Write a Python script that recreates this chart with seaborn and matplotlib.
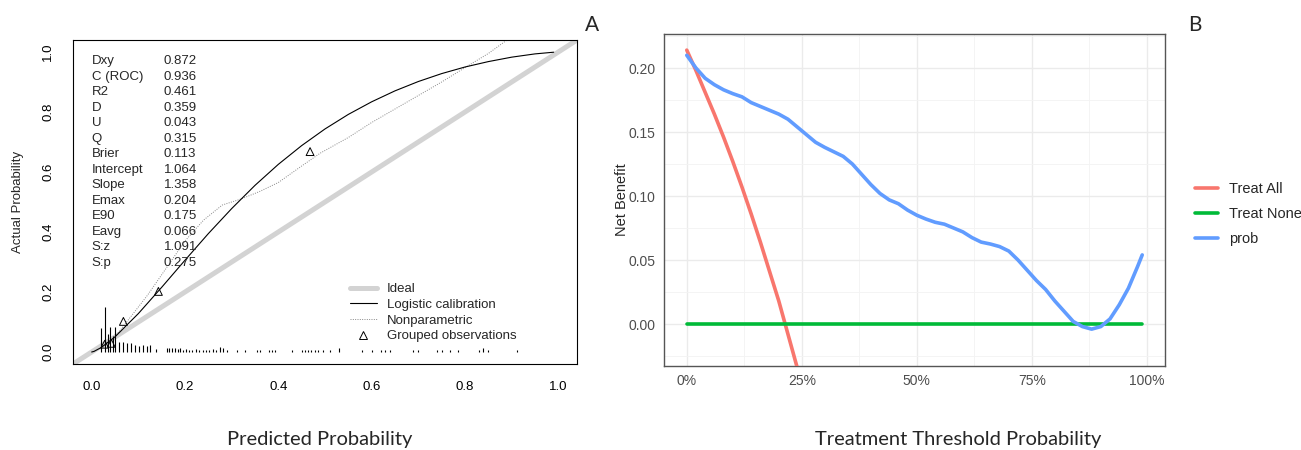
"""Calibration curve (A) and decision curve (B) side by side."""

import matplotlib
matplotlib.use("Agg")
import matplotlib.pyplot as plt
import pandas as pd
import seaborn as sns
from matplotlib.lines import Line2D


# ---- panel A: calibration ----
STAT_NAMES = ["Dxy", "C (ROC)", "R2", "D", "U", "Q", "Brier", "Intercept",
              "Slope", "Emax", "E90", "Eavg", "S:z", "S:p"]
STAT_VALUES = ["0.872", "0.936", "0.461", "0.359", "0.043", "0.315", "0.113",
               "1.064", "1.358", "0.204", "0.175", "0.066", "1.091", "0.275"]

LOGISTIC_PRED = [0.0, 0.005, 0.02, 0.05, 0.1, 0.15, 0.2, 0.25, 0.3, 0.35, 0.4,
                 0.45, 0.5, 0.55, 0.6, 0.65, 0.7, 0.75, 0.8, 0.85, 0.9, 0.95, 0.99]
LOGISTIC_OBS = [0.0, 0.002, 0.0145, 0.0505, 0.128, 0.2156, 0.306, 0.3946, 0.478,
                0.5555, 0.6255, 0.688, 0.7435, 0.792, 0.834, 0.8705, 0.9016,
                0.928, 0.950, 0.968, 0.9828, 0.9937, 0.9993]

NONPAR_PRED = [0.02, 0.05, 0.08, 0.12, 0.16, 0.20, 0.24, 0.28, 0.32, 0.36, 0.40,
               0.45, 0.49, 0.55, 0.60, 0.65, 0.70, 0.75, 0.80, 0.85, 0.89]
NONPAR_OBS = [0.01, 0.05, 0.11, 0.19, 0.28, 0.37, 0.44, 0.49, 0.51, 0.535, 0.565,
              0.62, 0.663, 0.715, 0.765, 0.81, 0.855, 0.90, 0.948, 0.995, 1.04]

GROUP_PRED = [0.028, 0.042, 0.068, 0.143, 0.468]
GROUP_OBS = [0.026, 0.029, 0.102, 0.202, 0.668]

RUG_X = [0.020, 0.029, 0.034, 0.039, 0.045, 0.050, 0.059, 0.068, 0.076, 0.084,
         0.093, 0.101, 0.109, 0.118, 0.126, 0.138, 0.161, 0.166, 0.172, 0.178,
         0.184, 0.189, 0.195, 0.202, 0.209, 0.216, 0.224, 0.231, 0.238, 0.245,
         0.252, 0.259, 0.266, 0.275, 0.281, 0.289, 0.311, 0.329, 0.354, 0.361,
         0.379, 0.386, 0.393, 0.429, 0.450, 0.457, 0.464, 0.471, 0.479, 0.486,
         0.496, 0.511, 0.529, 0.579, 0.600, 0.621, 0.629, 0.639, 0.689, 0.700,
         0.739, 0.750, 0.768, 0.786, 0.829, 0.839, 0.850, 0.911]
RUG_H = [0.080, 0.150, 0.060, 0.085, 0.055, 0.083, 0.035, 0.033, 0.030, 0.030,
         0.022, 0.020, 0.022, 0.020, 0.022, 0.010, 0.012, 0.012, 0.012, 0.012,
         0.010, 0.012, 0.008, 0.010, 0.008, 0.008, 0.010, 0.006, 0.006, 0.008,
         0.006, 0.010, 0.006, 0.018, 0.012, 0.006, 0.006, 0.006, 0.006, 0.006,
         0.006, 0.006, 0.006, 0.006, 0.006, 0.006, 0.008, 0.008, 0.006, 0.006,
         0.008, 0.006, 0.015, 0.006, 0.006, 0.006, 0.006, 0.006, 0.006, 0.006,
         0.006, 0.006, 0.006, 0.006, 0.006, 0.015, 0.006, 0.006]

# ---- panel B: decision curve ----
TREAT_ALL_PT = [0.0, 0.02, 0.04, 0.06, 0.08, 0.10, 0.12, 0.14, 0.16, 0.18,
                0.20, 0.22, 0.24, 0.26]
TREAT_ALL_NB = [0.214, 0.198, 0.181, 0.164, 0.146, 0.127, 0.107, 0.086, 0.064,
                0.041, 0.018, -0.008, -0.034, -0.062]

TREAT_NONE_PT = [0.0, 0.99]
TREAT_NONE_NB = [0.0, 0.0]

PROB_PT = [0.00, 0.02, 0.04, 0.06, 0.08, 0.10, 0.12, 0.14, 0.16, 0.18, 0.20,
           0.22, 0.24, 0.26, 0.28, 0.30, 0.32, 0.34, 0.36, 0.38, 0.40, 0.42,
           0.44, 0.46, 0.48, 0.50, 0.52, 0.54, 0.56, 0.58, 0.60, 0.62, 0.64,
           0.66, 0.68, 0.70, 0.72, 0.74, 0.76, 0.78, 0.80, 0.82, 0.84, 0.86,
           0.88, 0.90, 0.92, 0.94, 0.96, 0.98, 0.99]
PROB_NB = [0.210, 0.200, 0.192, 0.187, 0.183, 0.180, 0.1775, 0.173, 0.170,
           0.167, 0.164, 0.160, 0.154, 0.148, 0.142, 0.138, 0.1345, 0.131,
           0.125, 0.117, 0.109, 0.102, 0.097, 0.094, 0.089, 0.085, 0.082,
           0.0795, 0.078, 0.075, 0.072, 0.0675, 0.064, 0.0625, 0.0605, 0.057,
           0.050, 0.042, 0.034, 0.027, 0.018, 0.010, 0.002, -0.002, -0.004,
           -0.002, 0.004, 0.015, 0.028, 0.045, 0.054]

MODELS = ["Treat All", "Treat None", "prob"]
MODEL_COLORS = ["#F8766D", "#00BA38", "#619CFF"]

W, H = 1301, 450
ARIAL = ["Liberation Sans", "DejaVu Sans"]
CAPTION = ["Lato", "DejaVu Sans"]


def draw_calibration(ax):
    ax.plot([-0.1, 1.1], [-0.1, 1.1], color="#D3D3D3", lw=3.6, zorder=1)
    sns.lineplot(x=LOGISTIC_PRED, y=LOGISTIC_OBS, ax=ax, color="black", lw=0.8,
                 sort=False, estimator=None, zorder=3)
    sns.lineplot(x=NONPAR_PRED, y=NONPAR_OBS, ax=ax, color="#888888", lw=0.7,
                 linestyle=(0, (1, 1.4)), sort=False, estimator=None, zorder=2)
    ax.vlines(RUG_X, 0, RUG_H, color="black", lw=0.8, zorder=2)
    sns.scatterplot(x=GROUP_PRED, y=GROUP_OBS, ax=ax, marker="^", s=32,
                    facecolors="none", edgecolors="black", linewidths=0.7, zorder=4)

    for i, (name, val) in enumerate(zip(STAT_NAMES, STAT_VALUES)):
        y = 0.970 - i * 0.0517
        ax.text(0.0, y, name, ha="left", va="center", fontsize=9.5, family=ARIAL)
        ax.text(0.154, y, val, ha="left", va="center", fontsize=9.5, family=ARIAL)

    handles = [
        Line2D([], [], color="#D3D3D3", lw=3.6),
        Line2D([], [], color="black", lw=0.8),
        Line2D([], [], color="#888888", lw=0.7, linestyle=(0, (1, 1.4))),
        Line2D([], [], color="black", lw=0, marker="^", markerfacecolor="none",
               markeredgewidth=0.7, markersize=6),
    ]
    labels = ["Ideal", "Logistic calibration", "Nonparametric", "Grouped observations"]
    leg = ax.legend(handles, labels, loc="upper left", bbox_to_anchor=(0.55, 0.25),
                    frameon=False, borderpad=0, borderaxespad=0, handlelength=2.0,
                    handletextpad=0.76, labelspacing=0.26,
                    prop={"family": ARIAL, "size": 9.5})
    leg.set_zorder(5)

    ax.set_xlim(-0.04, 1.04)
    ax.set_ylim(-0.04, 1.04)
    ticks = [0.0, 0.2, 0.4, 0.6, 0.8, 1.0]
    ax.set_xticks(ticks, [f"{t:.1f}" for t in ticks])
    ax.set_yticks(ticks, [f"{t:.1f}" for t in ticks])
    for lab in ax.get_yticklabels():
        lab.set_rotation(90)
        lab.set_va("center")
    for lab in ax.get_xticklabels() + ax.get_yticklabels():
        lab.set_family(ARIAL)
    ax.tick_params(axis="both", direction="out", length=5.5, width=0.8,
                   color="black", labelsize=9.5, labelcolor="black")
    ax.tick_params(axis="x", pad=7)
    ax.tick_params(axis="y", pad=8)
    for sp in ax.spines.values():
        sp.set_visible(True)
        sp.set_color("black")
        sp.set_linewidth(0.8)
    ax.grid(False)
    ax.set_xlabel("")
    ax.set_ylabel("Actual Probability", family=ARIAL, fontsize=9.5, labelpad=13)


def draw_dca(ax):
    frames = []
    for name, pt, nb in zip(MODELS, [TREAT_ALL_PT, TREAT_NONE_PT, PROB_PT],
                            [TREAT_ALL_NB, TREAT_NONE_NB, PROB_NB]):
        frames.append(pd.DataFrame({"threshold": pt, "net_benefit": nb, "model": name}))
    dca = pd.concat(frames, ignore_index=True)

    sns.lineplot(data=dca, x="threshold", y="net_benefit", hue="model",
                 hue_order=MODELS, palette=MODEL_COLORS, lw=2.6, sort=False,
                 estimator=None, ax=ax, legend=False, zorder=3)

    ax.set_xlim(-0.0495, 1.0395)
    ax.set_ylim(-0.0328, 0.2266)
    xt = [0.0, 0.25, 0.5, 0.75, 1.0]
    ax.set_xticks(xt, ["0%", "25%", "50%", "75%", "100%"])
    yt = [0.0, 0.05, 0.10, 0.15, 0.20]
    ax.set_yticks(yt, ["0.00", "0.05", "0.10", "0.15", "0.20"])
    ax.set_xticks([0.125, 0.375, 0.625, 0.875], minor=True)
    ax.set_yticks([-0.025, 0.025, 0.075, 0.125, 0.175, 0.225], minor=True)
    ax.grid(which="major", color="#EBEBEB", lw=1.0, zorder=0)
    ax.grid(which="minor", color="#F3F3F3", lw=0.6, zorder=0)
    ax.set_axisbelow(True)
    ax.tick_params(which="major", direction="out", length=3, width=0.8,
                   color="#333333", labelsize=10, labelcolor="#4D4D4D", pad=3)
    ax.tick_params(which="minor", length=0)
    for lab in ax.get_xticklabels() + ax.get_yticklabels():
        lab.set_family(ARIAL)
    for sp in ax.spines.values():
        sp.set_visible(True)
        sp.set_color("#555555")
        sp.set_linewidth(1.0)
    ax.set_xlabel("")
    ax.set_ylabel("Net Benefit", family=ARIAL, fontsize=10.5, labelpad=0)

    handles = [Line2D([], [], color=c, lw=2.6) for c in MODEL_COLORS]
    fig = ax.figure
    fig.legend(handles, MODELS, loc="upper left",
               bbox_to_anchor=(1195 / W, 1 - 182 / H), frameon=False,
               borderpad=0, borderaxespad=0, handlelength=1.55, handletextpad=0.8,
               labelspacing=0.76, prop={"family": ARIAL, "size": 10.5})


def main():
    sns.set_theme(style="white")
    plt.rcParams["font.family"] = ARIAL
    fig = plt.figure(figsize=(W / 100, H / 100), dpi=100)
    ax1 = fig.add_axes([73 / W, 1 - 364 / H, 504 / W, 324 / H])
    ax2 = fig.add_axes([664 / W, 1 - 366 / H, 501 / W, 332 / H])

    draw_calibration(ax1)
    draw_dca(ax2)

    fig.text(320 / W, 1 - 440 / H, "Predicted Probability", ha="center",
             va="center", fontsize=14.5, family=CAPTION)
    fig.text(958 / W, 1 - 440 / H, "Treatment Threshold Probability",
             ha="center", va="center", fontsize=14.5, family=CAPTION)
    fig.text(592 / W, 1 - 25 / H, "A", ha="center", va="center", fontsize=15,
             family=CAPTION)
    fig.text(1195 / W, 1 - 25 / H, "B", ha="center", va="center", fontsize=15,
             family=CAPTION)

    fig.savefig("out.png", dpi=100)
    plt.close(fig)


if __name__ == "__main__":
    main()
